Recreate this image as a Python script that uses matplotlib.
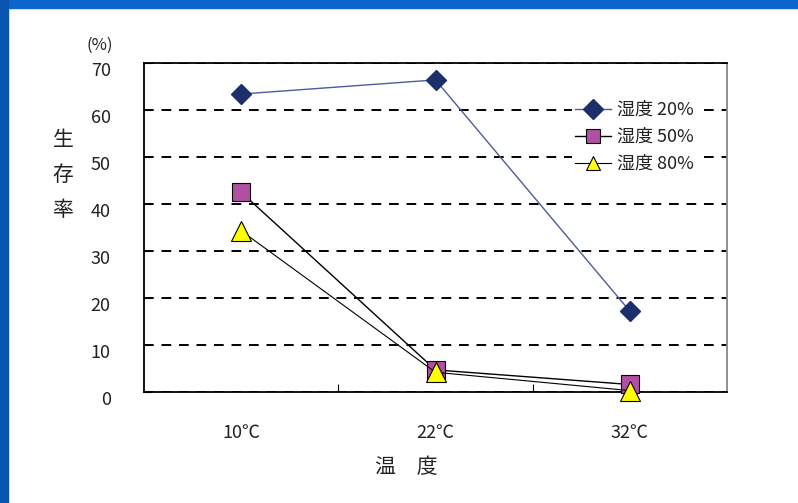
import matplotlib.pyplot as plt
from matplotlib.patches import Rectangle
from matplotlib.transforms import ScaledTranslation
import numpy as np

plt.rcParams['font.family'] = ['Noto Sans CJK JP', 'DejaVu Sans']

# survival rate (%) by temperature for each humidity level
temps = ["10℃", "22℃", "32℃"]
hum_20 = [63.4, 66.4, 17.2]
hum_50 = [42.5, 4.7, 1.6]
hum_80 = [34.3, 4.2, 0.3]
series_labels = ["湿度 20%", "湿度 50%", "湿度 80%"]
y_ticks = [0, 10, 20, 30, 40, 50, 60, 70]

fig = plt.figure(figsize=(7.98, 5.03), dpi=100)

# blue slide frame along top and left edges
fig.patches.append(Rectangle((0, 1 - 8 / 503), 1, 8 / 503, transform=fig.transFigure,
                             color="#0A66CC", zorder=0))
fig.patches.append(Rectangle((0, 0), 8 / 798, 1, transform=fig.transFigure,
                             color="#0A55B0", zorder=0))

ax = fig.add_axes([144 / 798, 111 / 503, 583 / 798, 329 / 503])
x = np.arange(len(temps))

ax.plot(x, hum_20, color="#4B5C9E", lw=1.0, marker="D", ms=10,
        mfc="#1C2F6A", mec="#1C2F6A", label=series_labels[0], zorder=5, clip_on=False)
ax.plot(x, hum_50, color="black", lw=1.0, marker="s", ms=13,
        mfc="#B24FA3", mec="black", mew=0.8, label=series_labels[1], zorder=4, clip_on=False)
ax.plot(x, hum_80, color="black", lw=0.8, marker="^", ms=14,
        mfc="#FFFF00", mec="black", mew=0.8, label=series_labels[2], zorder=6, clip_on=False)

ax.set_xlim(-0.5, 2.5)
ax.set_ylim(0, 70)
ax.set_yticks(y_ticks)
ax.set_yticklabels([str(v) for v in y_ticks], fontsize=13, color="#222222")
ax.yaxis.grid(True, linestyle=(0, (5, 4)), color="black", lw=1.4)
ax.tick_params(axis="y", direction="in", length=5, pad=24)
# y labels sit a little below their gridlines
shift = ScaledTranslation(0, -6 / 100, fig.dpi_scale_trans)
for lab in ax.get_yticklabels():
    lab.set_transform(lab.get_transform() + shift)

# category boundaries as major ticks, labels centred on minor ticks
ax.set_xticks([0.5, 1.5])
ax.set_xticklabels([])
ax.set_xticks(x, minor=True)
ax.set_xticklabels(temps, minor=True, fontsize=13, color="#222222")
ax.tick_params(axis="x", which="major", direction="in", length=6)
ax.tick_params(axis="x", which="minor", length=0, pad=23)

for side in ["left", "bottom", "top"]:
    ax.spines[side].set_color("black")
    ax.spines[side].set_linewidth(1.3)
ax.spines["right"].set_color("#888888")
ax.spines["right"].set_linewidth(1.3)

fig.text(100 / 798, 1 - 45 / 503, "(%)", fontsize=12, ha="center", va="center",
         color="#222222")
fig.text(63 / 798, 1 - 175 / 503, "生\n存\n率", fontsize=15, ha="center", va="center",
         linespacing=1.75, color="#222222")
fig.text(406 / 798, 1 - 467 / 503, "温　度", fontsize=15, ha="center", va="center",
         color="#222222")

leg = ax.legend(loc="upper left", bbox_to_anchor=(0.718, 0.923), frameon=True,
                fontsize=13, handlelength=2.0, borderpad=0.2, labelspacing=0.5,
                handletextpad=0.3)
leg.get_frame().set_edgecolor("none")
leg.get_frame().set_facecolor("white")
leg.get_frame().set_alpha(1)
for h in leg.legend_handles:
    h.set_markersize(10)
for t in leg.get_texts():
    t.set_color("#222222")

fig.savefig("out.png", dpi=100)
